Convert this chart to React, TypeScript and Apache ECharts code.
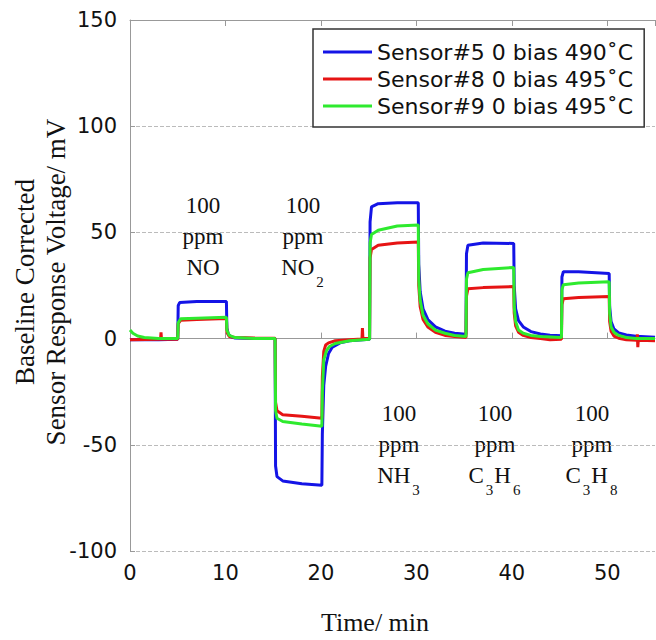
import React, { useEffect, useRef } from "react";
import * as echarts from "echarts";

// Legend / series names
const seriesNames = ["Sensor#5 0 bias 490˚C", "Sensor#8 0 bias 495˚C", "Sensor#9 0 bias 495˚C"];
const seriesColors = ["#1414e6", "#e61414", "#2eea2e"];

// [time (min), voltage (mV)]
const sensor5: number[][] = [
  [0, -0.5], [3, -0.5], [5.0, -0.3], [5.05, 15.5], [5.2, 17], [7, 17.5], [10.1, 17.5],
  [10.15, 5], [10.3, 2], [10.6, 0.8], [11, 0.3], [13, 0], [15.2, 0],
  [15.25, -60], [15.4, -65], [16, -67], [18, -68.3], [20.1, -69],
  [20.15, -45], [20.3, -22], [20.5, -13], [20.8, -7], [21.2, -4], [22, -2], [23, -1], [25.1, -0.3],
  [25.15, 55], [25.3, 62], [26, 63.5], [28, 64], [30.2, 64],
  [30.25, 35], [30.4, 22], [30.7, 14], [31.2, 9], [32, 5.5], [33, 3.5], [34, 2.5], [35.2, 2],
  [35.25, 40], [35.4, 44], [37, 45], [40.2, 44.8],
  [40.25, 25], [40.4, 14], [40.7, 8.5], [41.2, 5.5], [42, 3.3], [43, 2.2], [44, 1.6], [45.2, 1.3],
  [45.25, 29], [45.4, 31.5], [47, 31.5], [50.2, 30.6],
  [50.25, 15], [50.4, 8], [50.7, 4.5], [51.2, 2.7], [52, 1.7], [53, 1.1], [55, 0.6],
];

const sensor8: number[][] = [
  [0, -0.5], [3.2, -0.3], [3.25, 3], [3.3, -0.3], [5.0, -0.3], [5.05, 7], [5.3, 8.6], [7, 9], [10.1, 9.5],
  [10.15, 3], [10.4, 1], [11, 0.5], [13, 0.3], [15.2, 0.2],
  [15.25, -30], [15.4, -34], [16, -35.8], [18, -36.6], [20.1, -37.5],
  [20.15, -18], [20.3, -6], [20.5, -3], [20.8, -2], [21.5, -1], [23, -0.5], [24.3, -0.2], [24.35, 5], [24.4, 0], [25.1, 0],
  [25.15, 38], [25.3, 42], [26, 44], [28, 45], [30.2, 45.5],
  [30.25, 25], [30.4, 15], [30.7, 9], [31.2, 5.5], [32, 3], [33, 1.5], [34, 1], [35.2, 0.5],
  [35.25, 20], [35.4, 23.5], [37, 24], [40.2, 24.5],
  [40.25, 12], [40.4, 6], [40.7, 3], [41.2, 1.5], [42, 0.5], [43, 0], [44, -0.5], [45.2, -0.3],
  [45.25, 16], [45.4, 18.8], [47, 19.3], [50.2, 19.8],
  [50.25, 8], [50.4, 3.5], [50.7, 1.2], [51.2, 0.2], [52, -0.5], [53.1, -0.8], [53.15, 2], [53.2, -4], [53.25, -0.8], [55, -1],
];

const sensor9: number[][] = [
  [0, 4], [0.3, 2.5], [0.8, 1.2], [1.5, 0.5], [3, 0], [5.0, 0], [5.05, 7.5], [5.3, 9.3], [7, 9.6], [10.1, 10],
  [10.15, 4], [10.4, 1.5], [11, 0.5], [13, 0], [15.2, 0],
  [15.25, -34], [15.4, -37.5], [16, -39], [18, -40.2], [20.1, -41.3],
  [20.15, -25], [20.3, -10], [20.6, -5.5], [20.9, -3.7], [21.5, -2.3], [23, -1], [25.1, -0.3],
  [25.15, 45], [25.3, 49], [26, 51], [28, 53], [30.2, 53.5],
  [30.25, 28], [30.4, 18], [30.7, 11], [31.2, 7], [32, 4], [33, 2.5], [34, 1.5], [35.2, 1],
  [35.25, 28], [35.4, 31], [37, 32.5], [40.2, 33.5],
  [40.25, 15], [40.4, 8], [40.7, 4], [41.2, 2.5], [42, 1.5], [43, 1], [45.2, 0.5],
  [45.25, 23], [45.4, 25.4], [47, 26.2], [50.2, 26.8],
  [50.25, 12], [50.4, 5.5], [50.7, 3], [51.2, 1.5], [52, 0.5], [53, 0], [55, 0],
];

// Gas annotations: each line is list of [text, isSubscript]
const gasLabels: [string, boolean][][] = [
  [["NO", false]],
  [["NO", false], ["2", true]],
  [["NH", false], ["3", true]],
  [["C", false], ["3", true], ["H", false], ["6", true]],
  [["C", false], ["3", true], ["H", false], ["8", true]],
];
const concLabel = "100";
const unitLabel = "ppm";

const SERIF = "'Liberation Serif', 'Times New Roman', serif";
const SANS = "'DejaVu Sans', sans-serif";

function measure(text: string, size: number): number {
  const c = document.createElement("canvas").getContext("2d")!;
  c.font = `${size}px ${SERIF}`;
  return c.measureText(text).width;
}

function buildAnnotation(cx: number, topY: number, segs: [string, boolean][]): any[] {
  const main = 23;
  const sub = 15;
  const lh = 31;
  const out: any[] = [];
  out.push({ type: "text", x: cx, y: topY, style: { text: concLabel, font: `${main}px ${SERIF}`, fill: "#111", align: "center", verticalAlign: "middle" } });
  out.push({ type: "text", x: cx, y: topY + lh, style: { text: unitLabel, font: `${main}px ${SERIF}`, fill: "#111", align: "center", verticalAlign: "middle" } });
  const widths = segs.map(([t, s]) => measure(t, s ? sub : main) + (s ? 3 : 0));
  const total = widths.reduce((a, b) => a + b, 0);
  let x = cx - total / 2;
  const y = topY + 2 * lh;
  segs.forEach(([t, s], i) => {
    out.push({
      type: "text",
      x: s ? x + 2 : x,
      y: s ? y + 15 : y,
      style: { text: t, font: `${s ? sub : main}px ${SERIF}`, fill: "#111", align: "left", verticalAlign: "middle" },
    });
    x += widths[i];
  });
  return out;
}

export default function App() {
  const ref = useRef<HTMLDivElement>(null);
  useEffect(() => {
    document.body.style.margin = "0";
    const chart = echarts.init(ref.current!, null, { renderer: "svg" });
    const annPos = [
      [203, 205], [303, 205], [399, 413], [495, 413], [592, 413],
    ];
    const graphics: any[] = [];
    gasLabels.forEach((segs, i) => graphics.push(...buildAnnotation(annPos[i][0], annPos[i][1], segs)));
    graphics.push({
      type: "text", x: 40, y: 282, rotation: Math.PI / 2,
      style: { text: "Baseline Corrected\nSensor Response Voltage/ mV", font: `27px ${SERIF}`, lineHeight: 31, fill: "#111", align: "center", verticalAlign: "middle" },
    });
    graphics.push({
      type: "text", x: 375, y: 622,
      style: { text: "Time/ min", font: `26px ${SERIF}`, fill: "#111", align: "center", verticalAlign: "middle" },
    });

    const datas = [sensor5, sensor8, sensor9];
    chart.setOption({
      animation: false,
      backgroundColor: "#fff",
      grid: { left: 130, top: 20, right: 1, bottom: 89 },
      legend: {
        left: 313, top: 29, orient: "vertical",
        data: seriesNames,
        icon: "rect", itemWidth: 49, itemHeight: 3, itemGap: 5,
        padding: [12, 11, 10, 10],
        borderColor: "#333", borderWidth: 1.5, backgroundColor: "#fff",
        textStyle: { fontFamily: SANS, fontSize: 22, color: "#111", lineHeight: 22 },
      },
      xAxis: [
        {
          type: "value", min: 0, max: 55, interval: 10, position: "bottom",
          axisLine: { show: true, lineStyle: { color: "#999", width: 1 } },
          axisTick: { inside: true, length: 6, lineStyle: { color: "#999" } },
          axisLabel: { fontFamily: SANS, fontSize: 21, color: "#111", margin: 11, showMaxLabel: false },
          splitLine: { show: false },
        },
        {
          type: "value", min: 0, max: 55, interval: 10, position: "top",
          axisLine: { show: true, lineStyle: { color: "#999", width: 1 } },
          axisTick: { inside: true, length: 6, lineStyle: { color: "#999" } },
          axisLabel: { show: false },
          splitLine: { show: false },
        },
      ],
      yAxis: {
        type: "value", min: -100, max: 150, interval: 50,
        axisLine: { show: true, lineStyle: { color: "#999", width: 1 } },
        axisTick: { show: true, inside: true, length: 5, lineStyle: { color: "#999" } },
        axisLabel: { fontFamily: SANS, fontSize: 21, color: "#111", margin: 13 },
        splitLine: { show: true, lineStyle: { color: "#bbb", type: "dashed", width: 1 } },
      },
      series: seriesNames.map((name, i) => ({
        name,
        type: "line",
        data: datas[i],
        showSymbol: false,
        symbol: "none",
        xAxisIndex: 0,
        lineStyle: { color: seriesColors[i], width: 3 },
        itemStyle: { color: seriesColors[i] },
        z: 2 + i,
      })),
      graphic: graphics,
    });
    return () => chart.dispose();
  }, []);
  return <div ref={ref} style={{ width: 656, height: 640 }} />;
}
